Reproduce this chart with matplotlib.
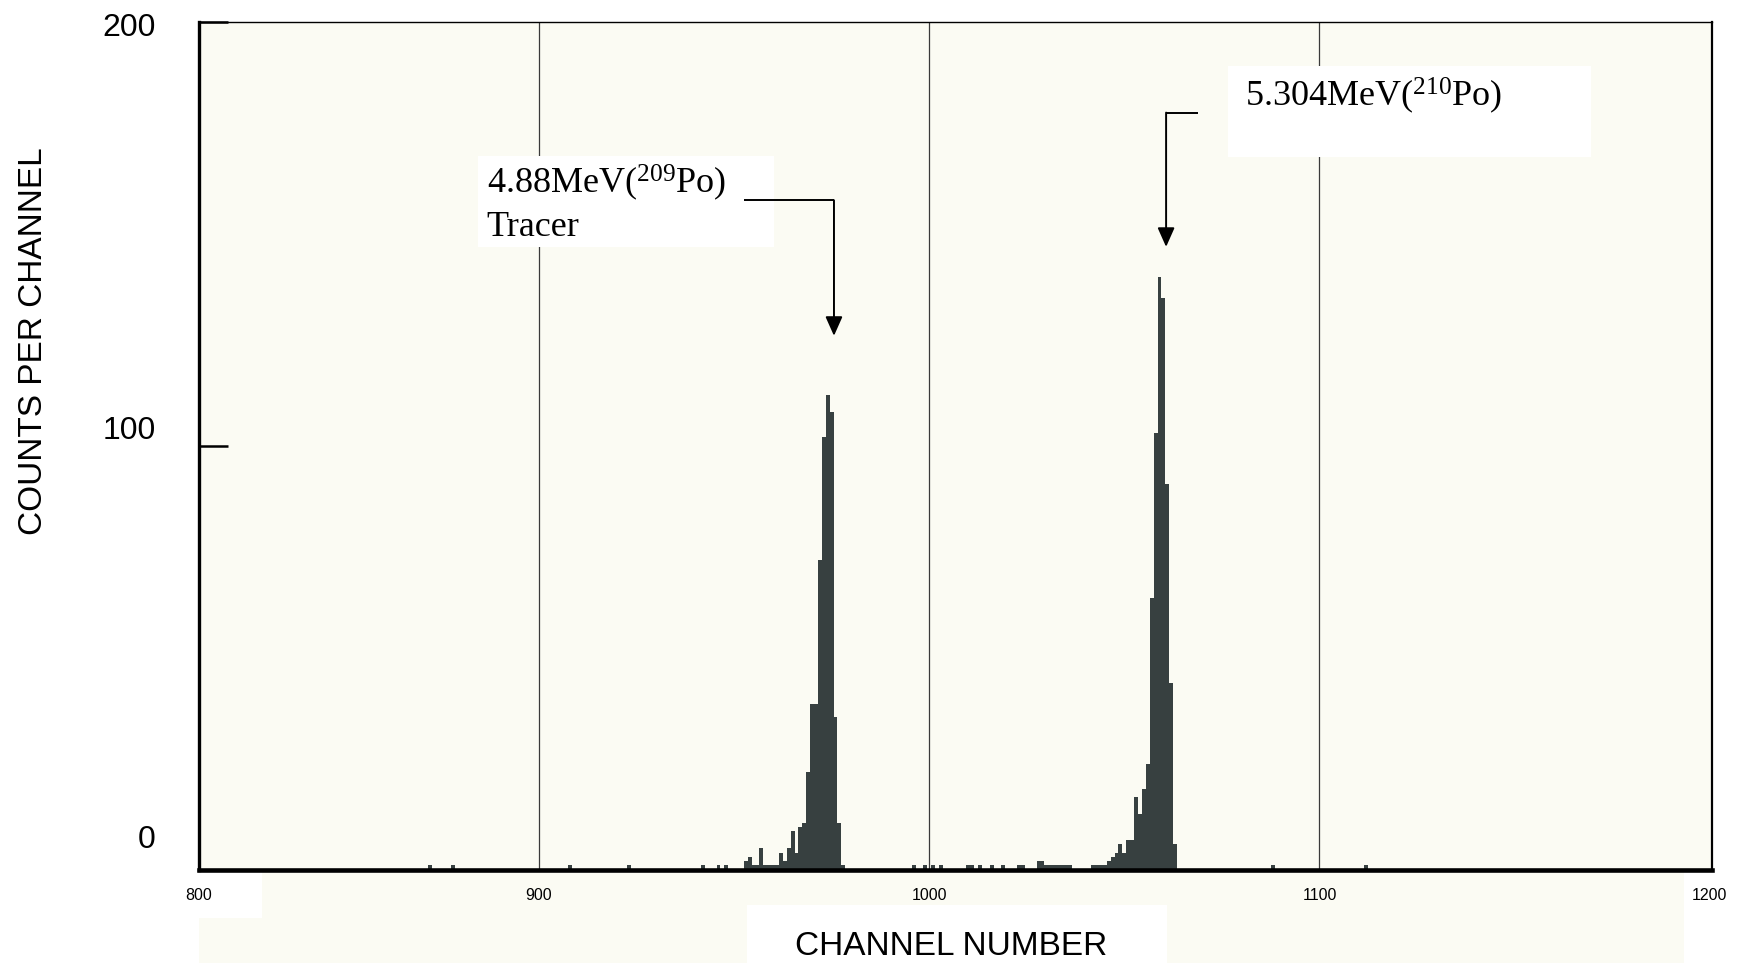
import numpy as np
import matplotlib
matplotlib.use("Agg")
import matplotlib.pyplot as plt
from matplotlib.patches import Rectangle
from matplotlib.transforms import ScaledTranslation

# ---------------- data ----------------
channels = [872, 878, 908, 923, 942, 946, 948,
            953, 954, 955, 956, 957, 958, 959, 960, 961, 962, 963, 964, 965,
            966, 967, 968, 969, 970, 971, 972, 973, 974, 975, 976, 977, 978,
            996, 999, 1001, 1003, 1010, 1011, 1013, 1016, 1019, 1023, 1024,
            1028, 1029, 1030, 1031, 1032, 1033, 1034, 1035, 1036,
            1042, 1043, 1044, 1045, 1046, 1047, 1048, 1049, 1050, 1051, 1052,
            1053, 1054, 1055, 1056, 1057, 1058, 1059, 1060, 1061, 1062, 1063,
            1088, 1112]
counts = [1, 1, 1, 1, 1, 1, 1,
          2, 3, 1, 1, 5, 1, 1, 1, 1, 4, 2, 5, 9,
          4, 10, 11, 23, 39, 39, 73, 102, 112, 108, 36, 11, 1,
          1, 1, 1, 1, 1, 1, 1, 1, 1, 1, 1,
          2, 2, 1, 1, 1, 1, 1, 1, 1,
          1, 1, 1, 1, 2, 3, 4, 6, 4, 7, 7,
          17, 13, 19, 25, 64, 103, 140, 135, 91, 44, 6,
          1, 1]

x_range = (812.9, 1200.5)
y_range = (0, 200)
grid_channels = [900, 1000, 1100]
xtick_labels = ["800", "900", "1000", "1100", "1200"]
yticks = [0, 100, 200]

label_209 = "4.88MeV($^{209}$Po)\nTracer"
label_210 = "5.304MeV($^{210}$Po)"

# ---------------- style ----------------
plt.rcParams["mathtext.fontset"] = "custom"
plt.rcParams["mathtext.rm"] = "Liberation Serif"
plt.rcParams["mathtext.it"] = "Liberation Serif:italic"
plt.rcParams["font.family"] = ["Liberation Sans", "DejaVu Sans"]

cream = "#fbfbf3"
bar_color = "#374040"

W_PX, H_PX = 1753, 963
fig = plt.figure(figsize=(W_PX / 100, H_PX / 100), dpi=100)
fig.patch.set_facecolor("white")

left_px, right_px, top_px, bot_px = 199, 1711.7, 22.4, 869.5
ax = fig.add_axes([left_px / W_PX, 1 - bot_px / H_PX,
                   (right_px - left_px) / W_PX, (bot_px - top_px) / H_PX])
ax.set_facecolor(cream)

# background paper band below the axes, white patches behind labels
def fig_rect(x0, y0, x1, y1, color, z):
    fig.patches.append(Rectangle((x0 / W_PX, 1 - y1 / H_PX), (x1 - x0) / W_PX,
                                 (y1 - y0) / H_PX, transform=fig.transFigure,
                                 facecolor=color, edgecolor="none", zorder=z))

fig_rect(199, 869, 1684, 963, cream, -10)
fig_rect(160, 872, 262, 918, "white", -9)
fig_rect(747, 905, 1167, 963, "white", -9)

# ---------------- histogram ----------------
edges = np.arange(np.floor(x_range[0]) - 0.5, np.ceil(x_range[1]) + 1.0, 1.0)
centers = (edges[:-1] + edges[1:]) / 2
values = np.zeros(len(centers))
for c, n in zip(channels, counts):
    values[np.argmin(np.abs(centers - c))] = n
ax.stairs(values, edges, fill=True, color=bar_color, linewidth=0, zorder=3)

# vertical grid lines
for g in grid_channels:
    ax.axvline(g, color="#3a3a3a", lw=0.9, zorder=1)

ax.set_xlim(*x_range)
ax.set_ylim(*y_range)

# ---------------- axes styling ----------------
for side, lw in (("left", 2.4), ("bottom", 3.3), ("right", 1.6), ("top", 1.0)):
    ax.spines[side].set_linewidth(lw)
    ax.spines[side].set_color("black")
    ax.spines[side].set_zorder(5)

ax.set_xticks([x_range[0]] + grid_channels + [1200])
ax.set_xticklabels(xtick_labels, fontsize=11.5)
ax.tick_params(axis="x", length=0, pad=13)

ax.set_yticks(yticks)
ax.set_yticklabels([str(v) for v in yticks], fontsize=23)
ax.tick_params(axis="y", direction="in", length=21, width=1.8, pad=31)
for lab, dy in zip(ax.get_yticklabels(), [32.7, 18.5, -2.4]):
    lab.set_transform(lab.get_transform() + ScaledTranslation(0, dy / 100, fig.dpi_scale_trans))

fig.text(33.5 / W_PX, 1 - 341 / H_PX, "COUNTS PER CHANNEL", rotation=90,
         ha="center", va="center", fontsize=24)
fig.text(951 / W_PX, 1 - 946 / H_PX, "CHANNEL NUMBER",
         ha="center", va="center", fontsize=24)

# ---------------- annotations ----------------
ax.add_patch(Rectangle((884.3, 147.0), 960.3 - 884.3, 168.4 - 147.0,
                       facecolor="white", edgecolor="none", zorder=2))
ax.add_patch(Rectangle((1076.5, 168.3), 1169.7 - 1076.5, 189.6 - 168.3,
                       facecolor="white", edgecolor="none", zorder=2))

ax.text(886.6, 157.3, label_209, family=["Liberation Serif", "DejaVu Serif"],
        fontsize=26, ha="left", va="center", linespacing=1.32, zorder=4)
ax.text(1081.0, 182.6, label_210, family=["Liberation Serif", "DejaVu Serif"],
        fontsize=26, ha="left", va="center", zorder=4)

arrow_kw = dict(arrowstyle="-|>,head_length=0.9,head_width=0.4",
                mutation_scale=13, lw=1.4, color="black",
                shrinkA=0, shrinkB=0)
# 209Po
ax.plot([952.5, 975.6], [158.0, 158.0], color="black", lw=1.4, zorder=4,
        solid_capstyle="butt")
ax.annotate("", xy=(975.6, 126.0), xytext=(975.6, 158.0),
            arrowprops=arrow_kw, zorder=4)
# 210Po
ax.plot([1068.9, 1060.7], [178.7, 178.7], color="black", lw=1.4, zorder=4,
        solid_capstyle="butt")
ax.annotate("", xy=(1060.7, 147.0), xytext=(1060.7, 178.7),
            arrowprops=arrow_kw, zorder=4)

fig.savefig("out.png", dpi=100, facecolor=fig.get_facecolor())
